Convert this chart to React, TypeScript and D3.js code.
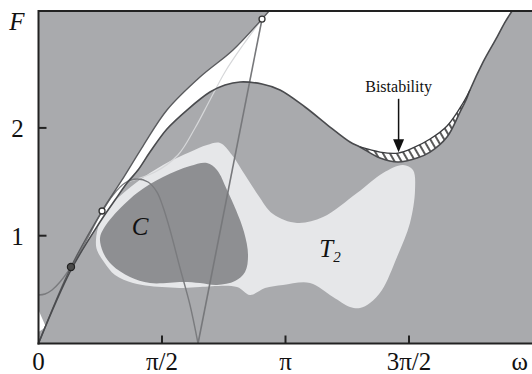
import React from 'react';
import * as d3 from 'd3';

// ---------- data (ω in rad, F) ----------
const outerOmega = [0, 0.413, 0.808, 1.062, 1.329, 1.634, 2.054, 2.474, 2.843, 2.932];
const outerF = [0, 0.71, 1.229, 1.517, 1.832, 2.166, 2.472, 2.723, 3.01, 3.084];

const innerOmega = [0, 0.413, 0.782, 0.973, 1.126];
const innerF = [0, 0.682, 1.127, 1.331, 1.489];

const humpOmega = [1.126, 1.266, 1.418, 1.634, 1.889, 2.181, 2.372, 2.563, 2.843, 3.072, 3.39, 3.708, 3.962, 4.089];
const humpF = [1.489, 1.609, 1.776, 1.99, 2.166, 2.333, 2.398, 2.426, 2.407, 2.352, 2.194, 2.008, 1.869, 1.823];

const lowerOmega = [4.089, 4.344, 4.573, 4.814, 4.98, 5.196, 5.361, 5.438, 5.488];
const lowerF = [1.823, 1.721, 1.684, 1.721, 1.776, 1.916, 2.147, 2.259, 2.352];

const upperOmega = [4.089, 4.344, 4.573, 4.763, 4.98, 5.196, 5.399, 5.488];
const upperF = [1.823, 1.776, 1.767, 1.814, 1.897, 2.018, 2.231, 2.352];

const rightOmega = [5.488, 5.654, 5.832, 5.934, 6.023];
const rightF = [2.352, 2.611, 2.843, 2.982, 3.084];

const lightOmega = [1.126, 1.482, 1.774, 1.991, 2.181, 2.372, 2.601, 2.843];
const lightF = [1.498, 1.591, 1.749, 1.999, 2.259, 2.519, 2.769, 3.01];

const archOmega = [0, 0.083, 0.172, 0.273, 0.413, 0.591, 0.782, 0.948, 1.1, 1.253, 1.393, 1.507, 1.584, 1.673, 1.8, 1.927, 2.029];
const archF = [0.45, 0.459, 0.496, 0.57, 0.71, 0.932, 1.192, 1.378, 1.489, 1.526, 1.498, 1.405, 1.266, 1.053, 0.7, 0.357, 0];

const vOmega = [2.029, 2.843];
const vF = [0, 3.01];

const t2Omega = [0.731, 0.782, 0.948, 1.253, 1.584, 1.927, 2.143, 2.309, 2.461, 2.627, 2.792, 2.983, 3.288, 3.619, 4.051, 4.382, 4.636, 4.763, 4.789, 4.725, 4.56, 4.369, 4.216, 4.089, 3.962, 3.746, 3.453, 3.11, 2.881, 2.69, 2.525, 2.054, 1.838, 1.418, 1.202, 0.973, 0.833, 0.744];
const t2F = [0.96, 1.127, 1.303, 1.498, 1.656, 1.776, 1.841, 1.86, 1.749, 1.563, 1.378, 1.201, 1.118, 1.173, 1.396, 1.582, 1.656, 1.609, 1.424, 1.118, 0.802, 0.496, 0.376, 0.329, 0.339, 0.431, 0.561, 0.543, 0.515, 0.45, 0.524, 0.524, 0.515, 0.533, 0.561, 0.635, 0.756, 0.867];

const cOmega = [0.782, 0.833, 0.948, 1.253, 1.584, 1.927, 2.143, 2.27, 2.398, 2.512, 2.614, 2.665, 2.627, 2.499, 2.27, 2.054, 1.838, 1.418, 1.164, 0.935, 0.82];
const cF = [0.979, 1.071, 1.183, 1.396, 1.544, 1.646, 1.674, 1.609, 1.424, 1.238, 1.034, 0.821, 0.663, 0.58, 0.543, 0.561, 0.57, 0.561, 0.617, 0.728, 0.849];

const sliverOmega = [0, 0.095, 0];
const sliverF = [0.311, 0.153, 0.107];

const filledPointOmega = [0.413];
const filledPointF = [0.71];
const openPointOmega = [0.808, 2.843];
const openPointF = [1.229, 3.01];

const xTickValues = [Math.PI / 2, Math.PI, (3 * Math.PI) / 2];
const xTickLabels = ['0', 'π/2', 'π', '3π/2', 'ω'];
const xTickLabelPos = [0, Math.PI / 2, Math.PI, (3 * Math.PI) / 2, 6.12];
const yTickValues = [1, 2];
const yTickLabels = ['1', '2'];

const bistabilityOmega = 4.58;
const bistabilityTipF = 1.775;
const bistabilityTailF = 2.27;
const bistabilityLabelF = 2.33;

const cLabelOmega = 1.291;
const cLabelF = 1.006;
const t2LabelOmega = 3.708;
const t2LabelF = 0.802;

// ---------- scales ----------
const X0 = 38.5, X1 = 532.5, Y0 = 343.5, Y1 = 11.5;
const xScale = d3.scaleLinear().domain([0, 2 * Math.PI]).range([X0, X1]);
const yScale = d3.scaleLinear().domain([0, 3.08]).range([Y0, Y1]);

type P = [number, number];
const pts = (ws: number[], fs: number[]): P[] => ws.map((w, i) => [xScale(w), yScale(fs[i])] as P);
const rev = <T,>(a: T[]) => a.slice().reverse();

const smooth = d3.line<P>().curve(d3.curveCatmullRom.alpha(0.5));
const closed = d3.line<P>().curve(d3.curveCatmullRomClosed.alpha(0.5));
const straight = d3.line<P>();

const join = (...segs: string[]) => segs.map((s, i) => (i === 0 ? s : s.replace(/^M/, 'L'))).join('') + 'Z';

const GRAY = '#a9aaad';
const DARK = '#8e8f92';
const LIGHT = '#e6e7e9';
const SERIF = '"Liberation Serif", "Times New Roman", serif';

export default function App() {
  const outer = pts(outerOmega, outerF);
  const inner = pts(innerOmega, innerF);
  const hump = pts(humpOmega, humpF);
  const lower = pts(lowerOmega, lowerF);
  const upper = pts(upperOmega, upperF);
  const right = pts(rightOmega, rightF);

  const topRight: P = [xScale(rightOmega[rightOmega.length - 1]) + 2, Y1 - 6];
  const topLeft: P = [xScale(outerOmega[outerOmega.length - 1]) + 1, Y1 - 6];

  const whitePath = join(
    smooth(outer)!,
    straight([topLeft, topRight])!,
    smooth(rev(right))!,
    smooth(rev(upper))!,
    smooth(rev(hump))!,
    smooth(rev(inner))!
  );
  const bandPath = join(smooth(upper)!, smooth(rev(lower))!);
  const mainLine = smooth([...inner, ...hump.slice(1), ...lower.slice(1), ...right.slice(1)])!;

  const tipX = xScale(bistabilityOmega);
  const tipY = yScale(bistabilityTipF);

  return (
    <svg width={532} height={374} style={{ position: 'absolute', left: 0, top: 0 }}>
      <defs>
        <clipPath id="plot">
          <rect x={X0} y={Y1} width={X1 - X0} height={Y0 - Y1} />
        </clipPath>
        <pattern id="hatch" patternUnits="userSpaceOnUse" width={6} height={6} patternTransform="rotate(-30)">
          <rect width={6} height={6} fill="#fff" />
          <line x1={3} y1={0} x2={3} y2={6} stroke="#222" strokeWidth={1.5} />
        </pattern>
      </defs>
      <rect width={532} height={374} fill="#fff" />
      <g clipPath="url(#plot)">
        <rect x={X0} y={Y1} width={X1 - X0} height={Y0 - Y1} fill={GRAY} />
        <path d={whitePath} fill="#fff" />
        <path d={straight(pts(sliverOmega, sliverF))! + 'Z'} fill="#fff" />
        <path d={bandPath} fill="url(#hatch)" />
        <path d={closed(pts(t2Omega, t2F))!} fill={LIGHT} />
        <path d={closed(pts(cOmega, cF))!} fill={DARK} />
        <path d={smooth(pts(lightOmega, lightF))!} fill="none" stroke="#d6d7d9" strokeWidth={1.2} />
        <path d={smooth(pts(archOmega, archF))!} fill="none" stroke="#7a7b7e" strokeWidth={1.4} />
        <path d={straight(pts(vOmega, vF))!} fill="none" stroke="#77787b" strokeWidth={1.6} />
        <path d={smooth(outer)!} fill="none" stroke="#5a5b5e" strokeWidth={1.4} />
        <path d={mainLine} fill="none" stroke="#4a4b4e" strokeWidth={1.6} />
        <path d={smooth(upper)!} fill="none" stroke="#3a3b3e" strokeWidth={1.3} />
        {pts(filledPointOmega, filledPointF).map(([x, y], i) => (
          <circle key={'f' + i} cx={x} cy={y} r={3.6} fill="#4a4a4a" stroke="#222" strokeWidth={1.2} />
        ))}
        {pts(openPointOmega, openPointF).map(([x, y], i) => (
          <circle key={'o' + i} cx={x} cy={y} r={3} fill="#fff" stroke="#333" strokeWidth={1.3} />
        ))}
      </g>

      {/* frame */}
      <line x1={X0} y1={Y1 - 0.5} x2={X1} y2={Y1 - 0.5} stroke="#222" strokeWidth={2} />
      <line x1={X0} y1={Y1 - 1.5} x2={X0} y2={Y0 + 1} stroke="#222" strokeWidth={2} />
      <line x1={X0 - 1} y1={Y0} x2={X1} y2={Y0} stroke="#222" strokeWidth={2} />
      {xTickValues.map((v, i) => (
        <line key={'xt' + i} x1={xScale(v)} x2={xScale(v)} y1={Y0} y2={Y0 - 8} stroke="#222" strokeWidth={2} />
      ))}
      {yTickValues.map((v, i) => (
        <line key={'yt' + i} x1={X0} x2={X0 + 8} y1={yScale(v)} y2={yScale(v)} stroke="#222" strokeWidth={2} />
      ))}

      {/* labels */}
      {xTickLabels.map((t, i) => (
        <text key={'xl' + i} x={xScale(xTickLabelPos[i])} y={370} textAnchor="middle" fontFamily={SERIF} fontSize={25} fill="#111">
          {t}
        </text>
      ))}
      {yTickLabels.map((t, i) => (
        <text key={'yl' + i} x={17.5} y={yScale(yTickValues[i]) + 9} textAnchor="middle" fontFamily={SERIF} fontSize={25} fill="#111">
          {t}
        </text>
      ))}
      <text x={17} y={30} textAnchor="middle" fontFamily={SERIF} fontStyle="italic" fontSize={25} fill="#111">F</text>

      <text x={xScale(cLabelOmega)} y={yScale(cLabelF)} textAnchor="middle" fontFamily={SERIF} fontStyle="italic" fontSize={25} fill="#111">C</text>
      <text x={xScale(t2LabelOmega)} y={yScale(t2LabelF)} textAnchor="middle" fontFamily={SERIF} fontStyle="italic" fontSize={25} fill="#111">
        T<tspan fontSize={15} dy={5}>2</tspan>
      </text>

      <text x={tipX} y={yScale(bistabilityLabelF)} textAnchor="middle" fontFamily={SERIF} fontSize={16} fill="#111">Bistability</text>
      <line x1={tipX} x2={tipX} y1={yScale(bistabilityTailF)} y2={tipY - 10} stroke="#111" strokeWidth={1.5} />
      <path d={`M${tipX - 5.5},${tipY - 13}L${tipX + 5.5},${tipY - 13}L${tipX},${tipY}Z`} fill="#111" />
    </svg>
  );
}
